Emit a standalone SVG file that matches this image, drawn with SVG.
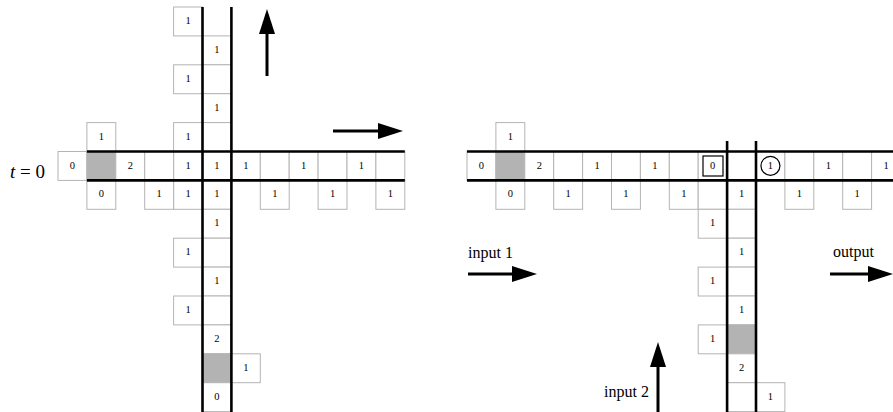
<svg xmlns="http://www.w3.org/2000/svg" xmlns:xlink="http://www.w3.org/1999/xlink" width="893" height="412" viewBox="0 0 893 412">
<style>
.cell{fill:#fff;stroke:#b4b4b4;stroke-width:1}
.gray{fill:#b3b3b3;stroke:#b4b4b4;stroke-width:1}
.chan{stroke:#000;stroke-width:2.6;fill:none}
.num{font-family:"Liberation Serif",serif;font-size:10.5px;text-anchor:middle;fill:#000}
.lbl{font-family:"Liberation Serif",serif;font-size:16px;fill:#000}
.arr{stroke:#000;stroke-width:3;fill:none;marker-end:url(#ah)}
</style>
<defs>
<rect id="c" class="cell" width="28.9" height="28.9"/>
<rect id="g" class="gray" width="28.9" height="28.9"/>
<marker id="ah" viewBox="0 0 25 16" refX="2" refY="8" markerWidth="25" markerHeight="16" markerUnits="userSpaceOnUse" orient="auto">
<path d="M0,0 L25,8 L0,16 z" fill="#000"/>
</marker>
</defs>
<rect width="893" height="412" fill="#fff"/>

<g id="left">
<g id="left-cells">
<use href="#c" x="202.5" y="35.9"/><use href="#c" x="202.5" y="64.8"/><use href="#c" x="202.5" y="93.7"/><use href="#c" x="202.5" y="122.6"/><use href="#c" x="202.5" y="151.5"/><use href="#c" x="202.5" y="180.4"/><use href="#c" x="202.5" y="209.3"/><use href="#c" x="202.5" y="238.2"/><use href="#c" x="202.5" y="267.1"/><use href="#c" x="202.5" y="296"/><use href="#c" x="202.5" y="324.9"/><use href="#g" x="202.5" y="353.8"/><use href="#c" x="202.5" y="382.7"/>
<use href="#c" x="173.6" y="7"/><use href="#c" x="173.6" y="64.8"/><use href="#c" x="173.6" y="122.6"/><use href="#c" x="173.6" y="151.5"/><use href="#c" x="173.6" y="180.4"/><use href="#c" x="173.6" y="238.2"/><use href="#c" x="173.6" y="296"/>
<use href="#c" x="58" y="151.5"/><use href="#g" x="86.9" y="151.5"/><use href="#c" x="115.8" y="151.5"/><use href="#c" x="144.7" y="151.5"/><use href="#c" x="231.4" y="151.5"/><use href="#c" x="260.3" y="151.5"/><use href="#c" x="289.2" y="151.5"/><use href="#c" x="318.1" y="151.5"/><use href="#c" x="347" y="151.5"/><use href="#c" x="375.9" y="151.5"/>
<use href="#c" x="86.9" y="122.6"/>
<use href="#c" x="86.9" y="180.4"/><use href="#c" x="144.7" y="180.4"/><use href="#c" x="260.3" y="180.4"/><use href="#c" x="318.1" y="180.4"/><use href="#c" x="375.9" y="180.4"/>
<use href="#c" x="231.4" y="353.8"/>
</g>
<g id="left-channel">
<line class="chan" x1="202.5" y1="7" x2="202.5" y2="412"/>
<line class="chan" x1="231.4" y1="7" x2="231.4" y2="412"/>
<line class="chan" x1="86.9" y1="151.5" x2="404.8" y2="151.5"/>
<line class="chan" x1="86.9" y1="180.4" x2="404.8" y2="180.4"/>
</g>
<g id="left-nums" class="num">
<text x="216.95" y="52.9">1</text><text x="216.95" y="110.7">1</text><text x="216.95" y="168.5">1</text><text x="216.95" y="197.4">1</text><text x="216.95" y="226.3">1</text><text x="216.95" y="284.1">1</text><text x="216.95" y="341.9">2</text><text x="216.95" y="399.7">0</text>
<text x="188.05" y="24">1</text><text x="188.05" y="81.8">1</text><text x="188.05" y="139.6">1</text><text x="188.05" y="168.5">1</text><text x="188.05" y="197.4">1</text><text x="188.05" y="255.2">1</text><text x="188.05" y="313">1</text>
<text x="72.45" y="168.5">0</text><text x="130.25" y="168.5">2</text><text x="245.85" y="168.5">1</text><text x="303.65" y="168.5">1</text><text x="361.45" y="168.5">1</text>
<text x="101.35" y="139.6">1</text>
<text x="101.35" y="197.4">0</text><text x="159.15" y="197.4">1</text><text x="274.75" y="197.4">1</text><text x="332.55" y="197.4">1</text><text x="390.35" y="197.4">1</text>
<text x="245.85" y="370.8">1</text>
</g>
<text id="t0" x="10" y="178" font-family="Liberation Serif, serif" font-size="19"><tspan font-style="italic">t</tspan> = 0</text>
</g>

<g id="right">
<g id="right-cells">
<use href="#c" x="467" y="151.5"/><use href="#g" x="495.9" y="151.5"/><use href="#c" x="524.8" y="151.5"/><use href="#c" x="553.7" y="151.5"/><use href="#c" x="582.6" y="151.5"/><use href="#c" x="611.5" y="151.5"/><use href="#c" x="640.4" y="151.5"/><use href="#c" x="669.3" y="151.5"/><use href="#c" x="698.2" y="151.5"/><use href="#c" x="727.1" y="151.5"/><use href="#c" x="756" y="151.5"/><use href="#c" x="784.9" y="151.5"/><use href="#c" x="813.8" y="151.5"/><use href="#c" x="842.7" y="151.5"/><use href="#c" x="871.6" y="151.5"/>
<use href="#c" x="495.9" y="122.6"/>
<use href="#c" x="495.9" y="180.4"/><use href="#c" x="553.7" y="180.4"/><use href="#c" x="611.5" y="180.4"/><use href="#c" x="669.3" y="180.4"/><use href="#c" x="698.2" y="180.4"/><use href="#c" x="727.1" y="180.4"/><use href="#c" x="784.9" y="180.4"/><use href="#c" x="842.7" y="180.4"/>
<use href="#c" x="727.1" y="209.3"/><use href="#c" x="727.1" y="238.2"/><use href="#c" x="727.1" y="267.1"/><use href="#c" x="727.1" y="296"/><use href="#g" x="727.1" y="324.9"/><use href="#c" x="727.1" y="353.8"/><use href="#c" x="727.1" y="382.7"/>
<use href="#c" x="698.2" y="209.3"/><use href="#c" x="698.2" y="267.1"/><use href="#c" x="698.2" y="324.9"/>
<use href="#c" x="756" y="382.7"/>
</g>
<g id="right-channel">
<line class="chan" x1="727.1" y1="141" x2="727.1" y2="412"/>
<line class="chan" x1="756" y1="141" x2="756" y2="412"/>
<line class="chan" x1="467" y1="151.5" x2="893" y2="151.5"/>
<line class="chan" x1="467" y1="180.4" x2="893" y2="180.4"/>
</g>
<g id="right-marks">
<rect x="703" y="156" width="20" height="20" fill="none" stroke="#000" stroke-width="1.2"/>
<circle cx="770.45" cy="165.8" r="9.5" fill="none" stroke="#000" stroke-width="1.2"/>
</g>
<g id="right-nums" class="num">
<text x="481.45" y="168.5">0</text><text x="539.25" y="168.5">2</text><text x="597.05" y="168.5">1</text><text x="654.85" y="168.5">1</text><text x="712.65" y="168.5">0</text><text x="770.45" y="168.5">1</text><text x="828.25" y="168.5">1</text><text x="886.05" y="168.5">1</text>
<text x="510.35" y="139.6">1</text>
<text x="510.35" y="197.4">0</text><text x="568.15" y="197.4">1</text><text x="625.95" y="197.4">1</text><text x="683.75" y="197.4">1</text><text x="741.55" y="197.4">1</text><text x="799.35" y="197.4">1</text><text x="857.15" y="197.4">1</text>
<text x="741.55" y="255.2">1</text><text x="741.55" y="313">1</text><text x="741.55" y="370.8">2</text>
<text x="712.65" y="226.3">1</text><text x="712.65" y="284.1">1</text><text x="712.65" y="341.9">1</text>
<text x="770.45" y="399.7">1</text>
</g>
<text id="in1" class="lbl" x="468" y="258">input 1</text>
<text id="out" class="lbl" x="833" y="257">output</text>
<text id="in2" class="lbl" x="604" y="397">input 2</text>
</g>

<g id="connectors">
<line class="arr" x1="267" y1="76" x2="267" y2="32"/>
<line class="arr" x1="333" y1="131" x2="380" y2="131"/>
<line class="arr" x1="468" y1="274" x2="514" y2="274"/>
<line class="arr" x1="830" y1="274" x2="870" y2="274"/>
<line class="arr" x1="658" y1="412" x2="658" y2="365"/>
</g>
</svg>
